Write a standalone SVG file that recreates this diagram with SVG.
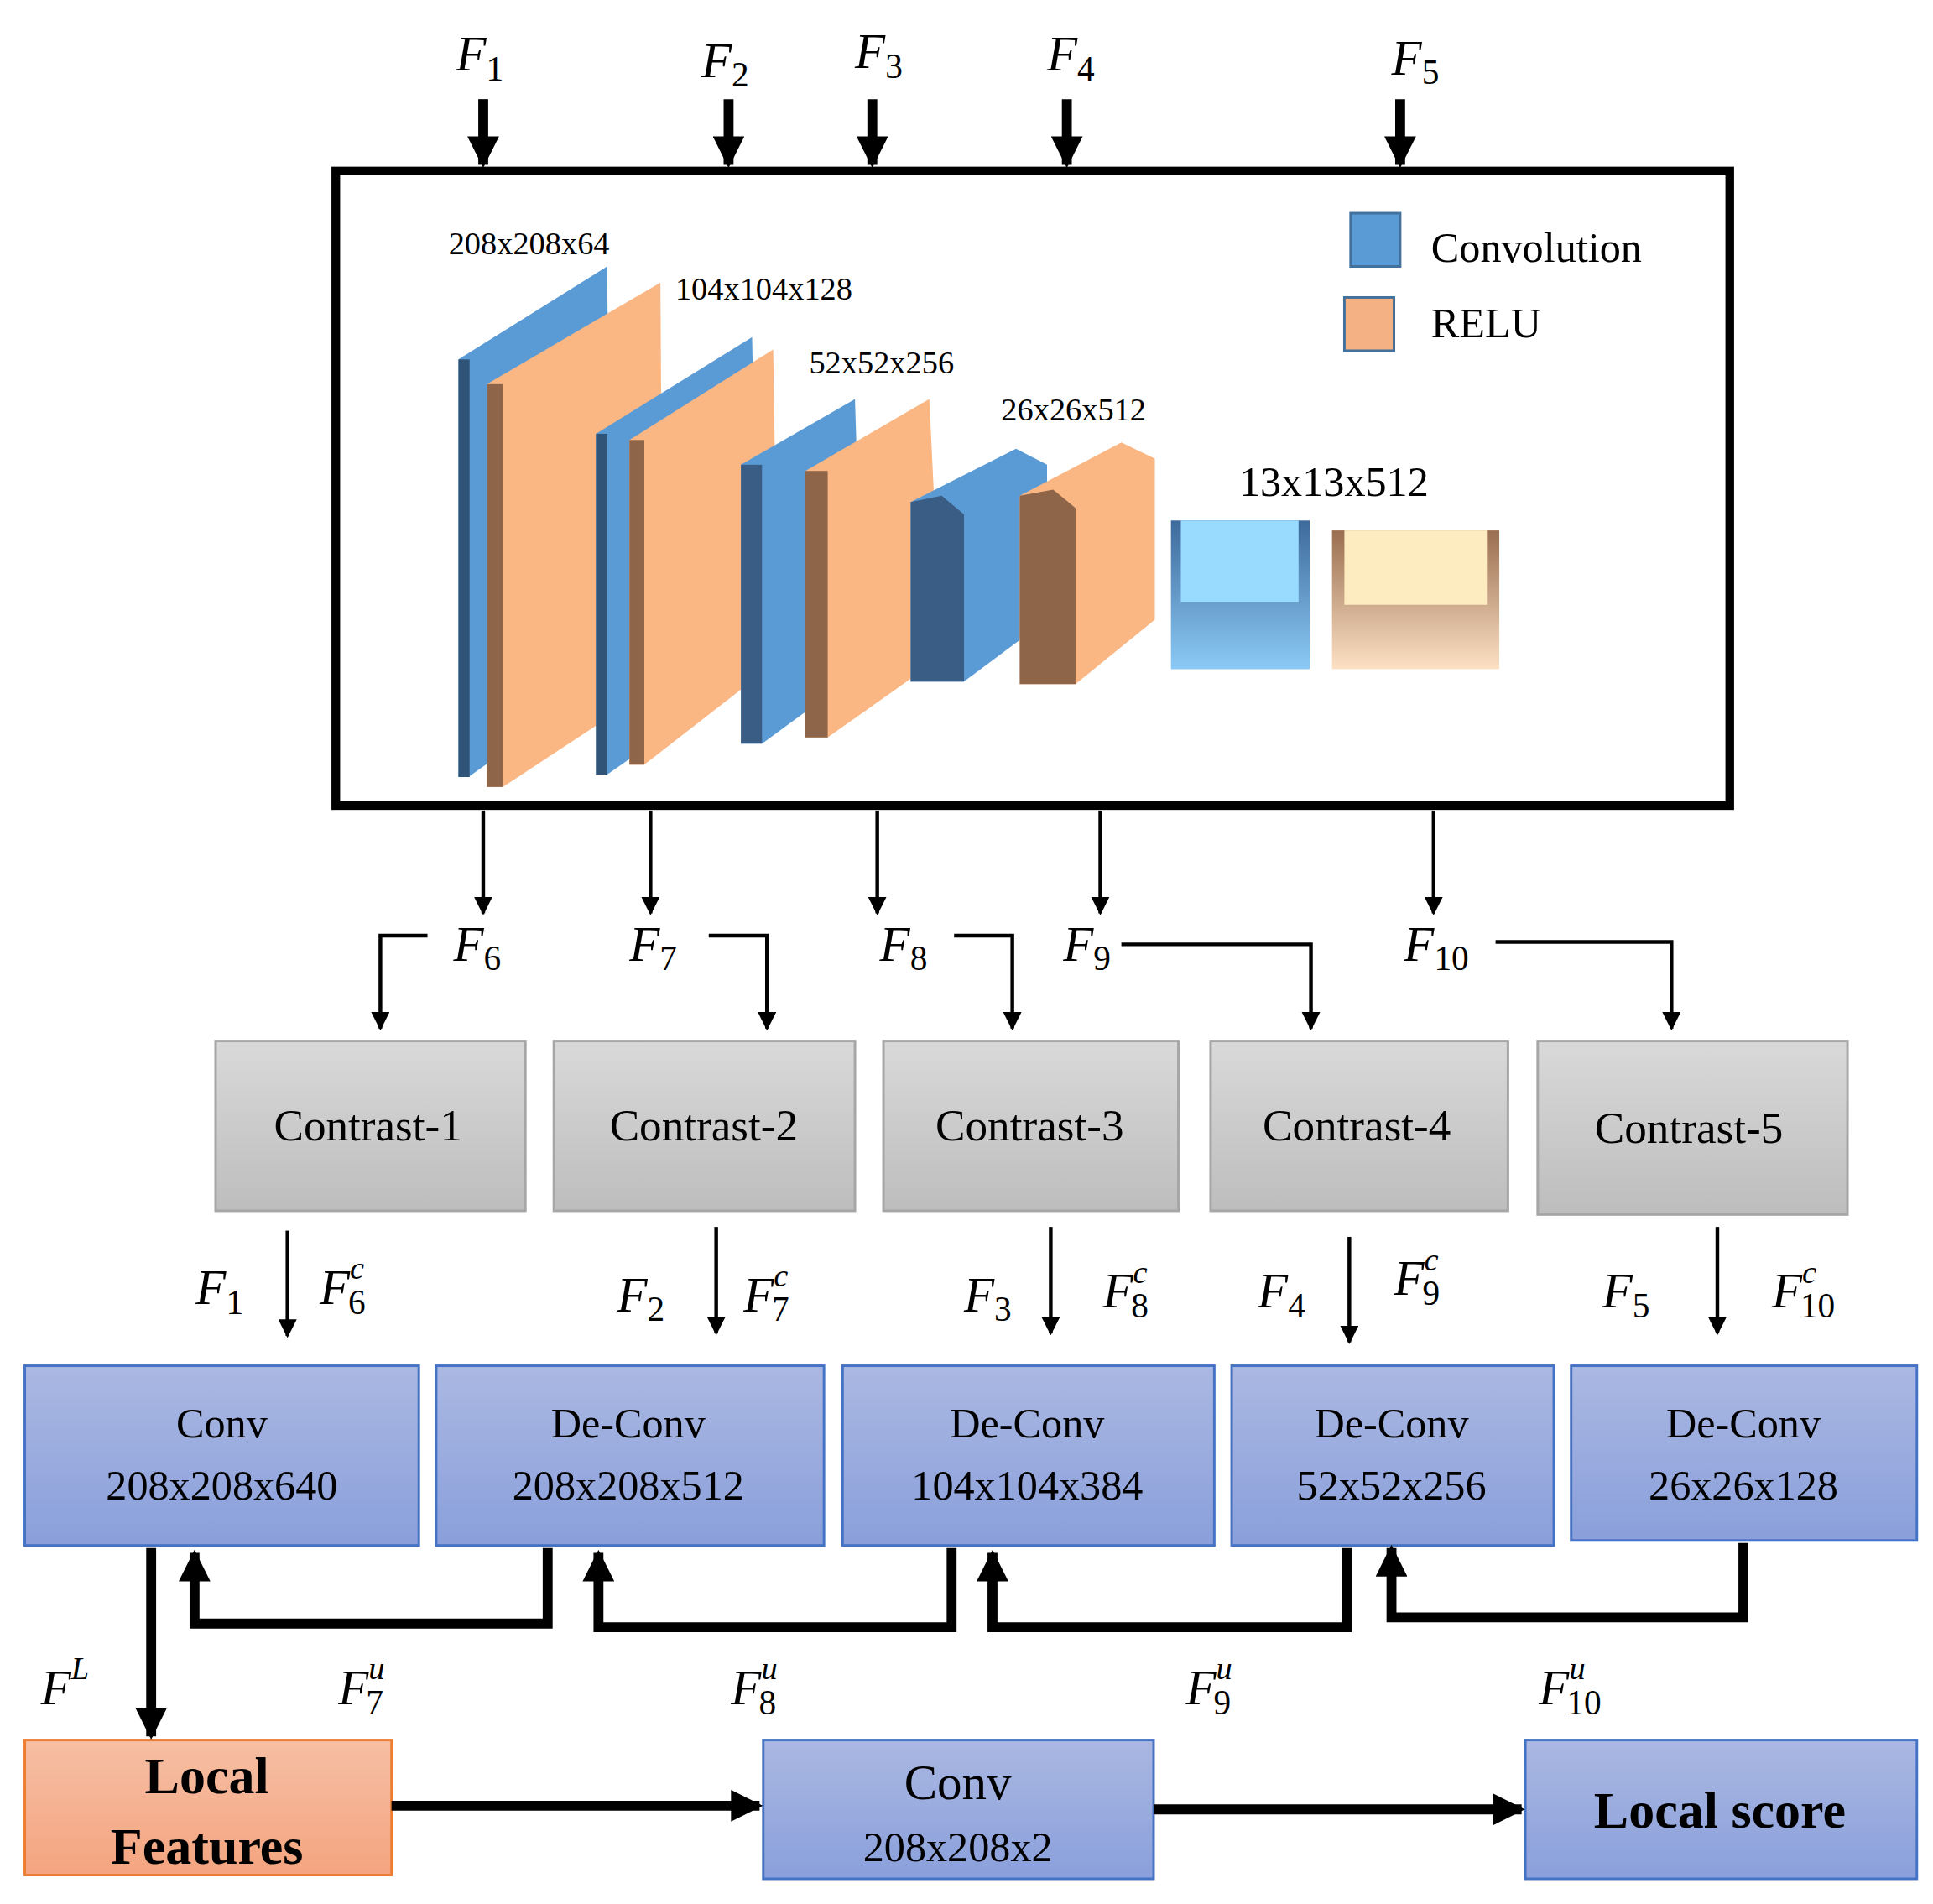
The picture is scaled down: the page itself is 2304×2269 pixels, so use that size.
<svg xmlns="http://www.w3.org/2000/svg" width="2304" height="2269" viewBox="0 0 2304 2269">
<defs>
<style>
.t{font-family:"Liberation Serif",serif;fill:#000}
.m{font-family:"Liberation Serif",serif;font-style:italic;font-size:40px;fill:#000}
.s{font-style:normal;font-size:28px}
.sp{font-size:26px}
.thin{stroke:#000;stroke-width:3;fill:none}
.thick{stroke:#000;stroke-width:8;fill:none}
</style>
<marker id="ah" viewBox="0 0 10 10" refX="9" refY="5" markerWidth="5" markerHeight="5" orient="auto" markerUnits="strokeWidth"><path d="M0,0L10,5L0,10z" fill="#000"/></marker>
<marker id="ahb" viewBox="0 0 10 10" refX="9" refY="5" markerWidth="3.2" markerHeight="3.2" orient="auto" markerUnits="strokeWidth"><path d="M0,0L10,5L0,10z" fill="#000"/></marker>
<linearGradient id="gb" x1="0" y1="0" x2="0" y2="1"><stop offset="0" stop-color="#aab8e2"/><stop offset="1" stop-color="#8a9fdb"/></linearGradient>
<linearGradient id="gg" x1="0" y1="0" x2="0" y2="1"><stop offset="0" stop-color="#d9d9d9"/><stop offset="1" stop-color="#bdbdbd"/></linearGradient>
<linearGradient id="go" x1="0" y1="0" x2="0" y2="1"><stop offset="0" stop-color="#f6bfa4"/><stop offset="1" stop-color="#f4a47f"/></linearGradient>
<linearGradient id="c5b" x1="0" y1="0" x2="0" y2="1"><stop offset="0" stop-color="#3d6a9b"/><stop offset="1" stop-color="#8ccaf5"/></linearGradient>
<linearGradient id="c5o" x1="0" y1="0" x2="0" y2="1"><stop offset="0" stop-color="#9a6e50"/><stop offset="1" stop-color="#fde1c4"/></linearGradient>
</defs>
<g transform="scale(1.4769)">
<g id="top-inputs">
<text class="m" x="368" y="57">F<tspan class="s" dy="8">1</tspan></text>
<text class="m" x="566" y="62">F<tspan class="s" dy="8">2</tspan></text>
<text class="m" x="690" y="55">F<tspan class="s" dy="8">3</tspan></text>
<text class="m" x="845" y="57">F<tspan class="s" dy="8">4</tspan></text>
<text class="m" x="1123" y="60">F<tspan class="s" dy="8">5</tspan></text>
</g>
<g id="encoder">
<rect x="271" y="138" width="1125" height="512" fill="#fff" stroke="#000" stroke-width="7"/>
<polygon points="370,290 490,215 493,545 378,627 370,627" fill="#5b9bd5"/>
<rect x="370" y="290" width="9" height="337" fill="#2f5478"/>
<polygon points="393,310 533,228 535,550 406,635 393,635" fill="#fab784"/>
<rect x="393" y="310" width="13" height="325" fill="#8e6548"/>
<polygon points="481,350 607,272 612,540 490,625 481,625" fill="#5b9bd5"/>
<rect x="481" y="350" width="9" height="275" fill="#2f5478"/>
<polygon points="508,355 624,282 628,533 520,617 508,617" fill="#fab784"/>
<rect x="508" y="355" width="12" height="262" fill="#8e6548"/>
<polygon points="598,375 690,322 697,540 615,600 598,600" fill="#5b9bd5"/>
<rect x="598" y="375" width="17" height="225" fill="#3a5d85"/>
<polygon points="650,380 750,322 760,530 668,595 650,595" fill="#fab784"/>
<rect x="650" y="380" width="18" height="215" fill="#8e6548"/>
<polygon points="735,405 820,362 845,375 845,500 778,550 735,550" fill="#5b9bd5"/>
<polygon points="735,405 760,400 778,415 778,550 735,550" fill="#3a5d85"/>
<polygon points="823,400 905,357 932,370 932,500 868,552 823,552" fill="#fab784"/>
<polygon points="823,400 850,395 868,410 868,552 823,552" fill="#8e6548"/>
<rect x="945" y="420" width="112" height="120" fill="url(#c5b)"/>
<rect x="953" y="420" width="95" height="66" fill="#99dbff"/>
<rect x="1075" y="428" width="135" height="112" fill="url(#c5o)"/>
<rect x="1085" y="428" width="115" height="60" fill="#fdecc0"/>
<text class="t" x="362" y="205" font-size="26">208x208x64</text>
<text class="t" x="545" y="242" font-size="26">104x104x128</text>
<text class="t" x="653" y="301" font-size="26">52x52x256</text>
<text class="t" x="808" y="339" font-size="26">26x26x512</text>
<text class="t" x="1000" y="400" font-size="34">13x13x512</text>
<rect x="1090" y="172" width="40" height="43" fill="#5b9bd5" stroke="#41719c" stroke-width="2"/>
<text class="t" x="1155" y="211" font-size="34">Convolution</text>
<rect x="1085" y="240" width="40" height="43" fill="#f4b183" stroke="#41719c" stroke-width="2"/>
<text class="t" x="1155" y="272" font-size="34">RELU</text>
</g>
<g id="mid-labels">
<text class="m" x="366" y="775">F<tspan class="s" dy="8">6</tspan></text>
<text class="m" x="508" y="775">F<tspan class="s" dy="8">7</tspan></text>
<text class="m" x="710" y="775">F<tspan class="s" dy="8">8</tspan></text>
<text class="m" x="858" y="775">F<tspan class="s" dy="8">9</tspan></text>
<text class="m" x="1133" y="775">F<tspan class="s" dy="8">10</tspan></text>
<text class="m" x="158" y="1052">F<tspan class="s" dy="8">1</tspan></text>
<text class="m" x="258" y="1052">F<tspan class="sp" dy="-20">c</tspan><tspan class="s" dx="-13" dy="28">6</tspan></text>
<text class="m" x="498" y="1058">F<tspan class="s" dy="8">2</tspan></text>
<text class="m" x="600" y="1058">F<tspan class="sp" dy="-20">c</tspan><tspan class="s" dx="-13" dy="28">7</tspan></text>
<text class="m" x="778" y="1058">F<tspan class="s" dy="8">3</tspan></text>
<text class="m" x="890" y="1055">F<tspan class="sp" dy="-20">c</tspan><tspan class="s" dx="-13" dy="28">8</tspan></text>
<text class="m" x="1015" y="1055">F<tspan class="s" dy="8">4</tspan></text>
<text class="m" x="1125" y="1045">F<tspan class="sp" dy="-20">c</tspan><tspan class="s" dx="-13" dy="28">9</tspan></text>
<text class="m" x="1293" y="1055">F<tspan class="s" dy="8">5</tspan></text>
<text class="m" x="1430" y="1055">F<tspan class="sp" dy="-20">c</tspan><tspan class="s" dx="-13" dy="28">10</tspan></text>
<text class="m" x="33" y="1375">F<tspan class="sp" dy="-20">L</tspan></text>
<text class="m" x="273" y="1375">F<tspan class="sp" dy="-20">u</tspan><tspan class="s" dx="-15" dy="28">7</tspan></text>
<text class="m" x="590" y="1375">F<tspan class="sp" dy="-20">u</tspan><tspan class="s" dx="-15" dy="28">8</tspan></text>
<text class="m" x="957" y="1375">F<tspan class="sp" dy="-20">u</tspan><tspan class="s" dx="-15" dy="28">9</tspan></text>
<text class="m" x="1242" y="1375">F<tspan class="sp" dy="-20">u</tspan><tspan class="s" dx="-15" dy="28">10</tspan></text>
</g>
<g id="contrast-1"><rect x="174" y="840" width="250" height="137" fill="url(#gg)" stroke="#a6a6a6" stroke-width="2"/><text class="t" x="297" y="920" font-size="36" text-anchor="middle">Contrast-1</text></g>
<g id="contrast-2"><rect x="447" y="840" width="243" height="137" fill="url(#gg)" stroke="#a6a6a6" stroke-width="2"/><text class="t" x="568" y="920" font-size="36" text-anchor="middle">Contrast-2</text></g>
<g id="contrast-3"><rect x="713" y="840" width="238" height="137" fill="url(#gg)" stroke="#a6a6a6" stroke-width="2"/><text class="t" x="831" y="920" font-size="36" text-anchor="middle">Contrast-3</text></g>
<g id="contrast-4"><rect x="977" y="840" width="240" height="137" fill="url(#gg)" stroke="#a6a6a6" stroke-width="2"/><text class="t" x="1095" y="920" font-size="36" text-anchor="middle">Contrast-4</text></g>
<g id="contrast-5"><rect x="1241" y="840" width="250" height="140" fill="url(#gg)" stroke="#a6a6a6" stroke-width="2"/><text class="t" x="1363" y="922" font-size="36" text-anchor="middle">Contrast-5</text></g>
<g id="conv1"><rect x="20" y="1102" width="318" height="145" fill="url(#gb)" stroke="#4472c4" stroke-width="2"/><text class="t" x="179" y="1160" font-size="34" text-anchor="middle">Conv</text><text class="t" x="179" y="1210" font-size="34" text-anchor="middle">208x208x640</text></g>
<g id="deconv1"><rect x="352" y="1102" width="313" height="145" fill="url(#gb)" stroke="#4472c4" stroke-width="2"/><text class="t" x="507" y="1160" font-size="34" text-anchor="middle">De-Conv</text><text class="t" x="507" y="1210" font-size="34" text-anchor="middle">208x208x512</text></g>
<g id="deconv2"><rect x="680" y="1102" width="300" height="145" fill="url(#gb)" stroke="#4472c4" stroke-width="2"/><text class="t" x="829" y="1160" font-size="34" text-anchor="middle">De-Conv</text><text class="t" x="829" y="1210" font-size="34" text-anchor="middle">104x104x384</text></g>
<g id="deconv3"><rect x="994" y="1102" width="260" height="145" fill="url(#gb)" stroke="#4472c4" stroke-width="2"/><text class="t" x="1123" y="1160" font-size="34" text-anchor="middle">De-Conv</text><text class="t" x="1123" y="1210" font-size="34" text-anchor="middle">52x52x256</text></g>
<g id="deconv4"><rect x="1268" y="1102" width="279" height="141" fill="url(#gb)" stroke="#4472c4" stroke-width="2"/><text class="t" x="1407" y="1160" font-size="34" text-anchor="middle">De-Conv</text><text class="t" x="1407" y="1210" font-size="34" text-anchor="middle">26x26x128</text></g>
<g id="local-features"><rect x="20" y="1404" width="296" height="109" fill="url(#go)" stroke="#ed7d31" stroke-width="2"/><text class="t" x="167" y="1447" font-size="42" font-weight="bold" text-anchor="middle">Local</text><text class="t" x="167" y="1504" font-size="42" font-weight="bold" text-anchor="middle">Features</text></g>
<g id="conv2"><rect x="616" y="1404" width="315" height="112" fill="url(#gb)" stroke="#4472c4" stroke-width="2"/><text class="t" x="773" y="1452" font-size="40" text-anchor="middle">Conv</text><text class="t" x="773" y="1502" font-size="34" text-anchor="middle">208x208x2</text></g>
<g id="local-score"><rect x="1231" y="1404" width="316" height="112" fill="url(#gb)" stroke="#4472c4" stroke-width="2"/><text class="t" x="1388" y="1475" font-size="42" font-weight="bold" text-anchor="middle">Local score</text></g>
<g id="connectors">
<line class="thick" x1="390" y1="80" x2="390" y2="133" marker-end="url(#ahb)"/>
<line class="thick" x1="588" y1="80" x2="588" y2="133" marker-end="url(#ahb)"/>
<line class="thick" x1="704" y1="80" x2="704" y2="133" marker-end="url(#ahb)"/>
<line class="thick" x1="861" y1="80" x2="861" y2="133" marker-end="url(#ahb)"/>
<line class="thick" x1="1130" y1="80" x2="1130" y2="133" marker-end="url(#ahb)"/>
<line class="thin" x1="390" y1="654" x2="390" y2="737" marker-end="url(#ah)"/>
<line class="thin" x1="525" y1="654" x2="525" y2="737" marker-end="url(#ah)"/>
<line class="thin" x1="708" y1="654" x2="708" y2="737" marker-end="url(#ah)"/>
<line class="thin" x1="888" y1="654" x2="888" y2="737" marker-end="url(#ah)"/>
<line class="thin" x1="1157" y1="654" x2="1157" y2="737" marker-end="url(#ah)"/>
<polyline class="thin" points="345,755 307,755 307,830" marker-end="url(#ah)"/>
<polyline class="thin" points="572,755 619,755 619,830" marker-end="url(#ah)"/>
<polyline class="thin" points="770,755 817,755 817,830" marker-end="url(#ah)"/>
<polyline class="thin" points="905,762 1058,762 1058,830" marker-end="url(#ah)"/>
<polyline class="thin" points="1207,760 1349,760 1349,830" marker-end="url(#ah)"/>
<line class="thin" x1="232" y1="993" x2="232" y2="1078" marker-end="url(#ah)"/>
<line class="thin" x1="578" y1="990" x2="578" y2="1076" marker-end="url(#ah)"/>
<line class="thin" x1="848" y1="990" x2="848" y2="1076" marker-end="url(#ah)"/>
<line class="thin" x1="1089" y1="998" x2="1089" y2="1083" marker-end="url(#ah)"/>
<line class="thin" x1="1386" y1="990" x2="1386" y2="1076" marker-end="url(#ah)"/>
<polyline class="thick" points="442,1249 442,1310 157,1310 157,1253" marker-end="url(#ahb)"/>
<polyline class="thick" points="768,1249 768,1313 483,1313 483,1253" marker-end="url(#ahb)"/>
<polyline class="thick" points="1087,1249 1087,1313 801,1313 801,1253" marker-end="url(#ahb)"/>
<polyline class="thick" points="1407,1245 1407,1305 1123,1305 1123,1249" marker-end="url(#ahb)"/>
<line class="thick" x1="122" y1="1249" x2="122" y2="1401" marker-end="url(#ahb)"/>
<line class="thick" x1="316" y1="1457" x2="613" y2="1457" marker-end="url(#ahb)"/>
<line class="thick" x1="931" y1="1460" x2="1228" y2="1460" marker-end="url(#ahb)"/>
</g>
</g>
</svg>
